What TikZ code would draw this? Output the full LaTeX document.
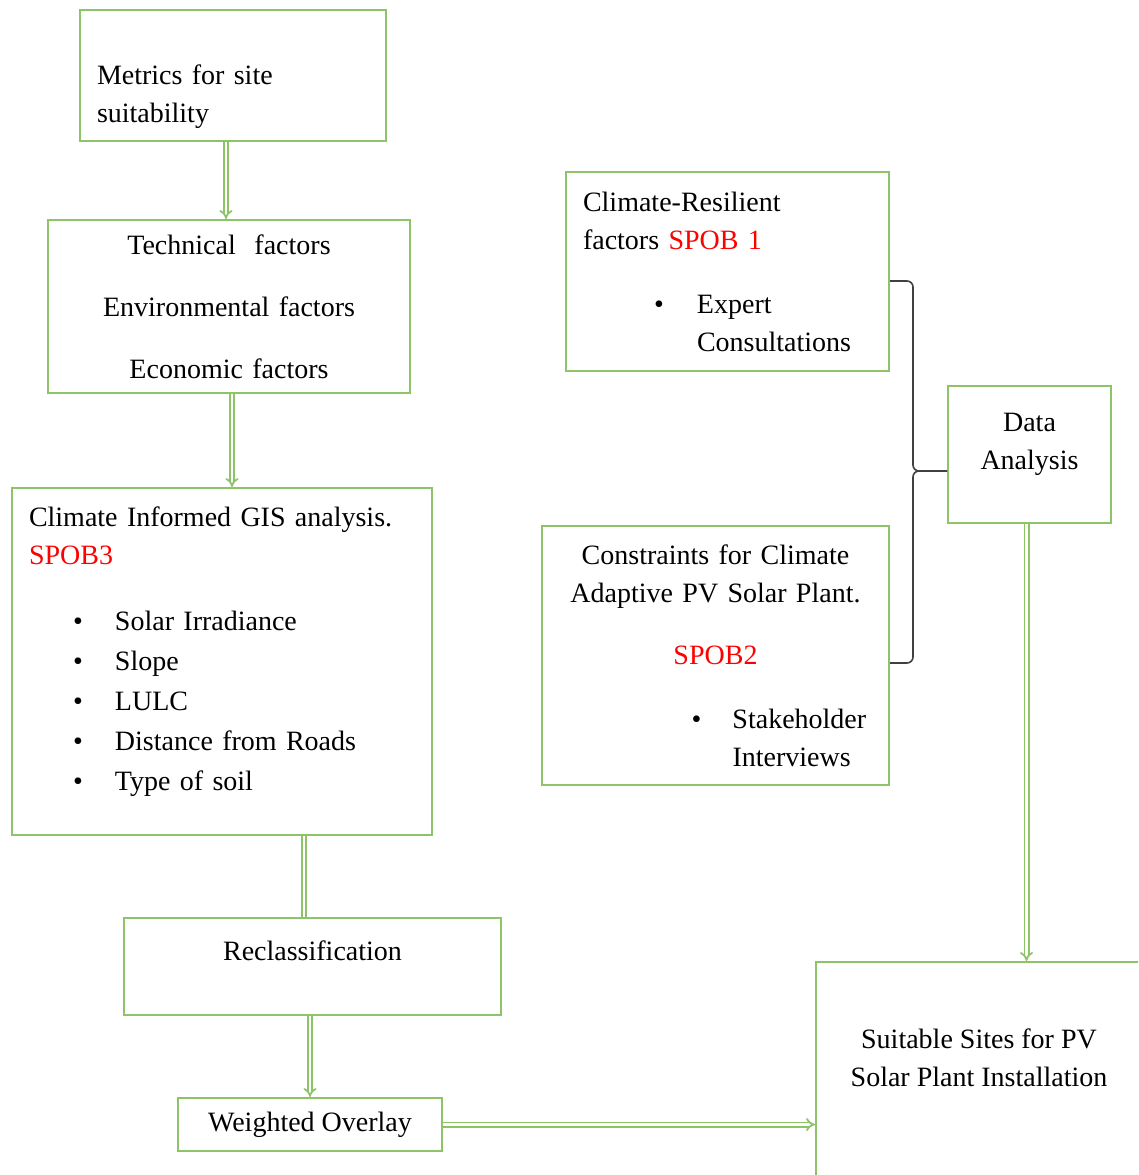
\documentclass[tikz,border=0pt]{standalone}
\usepackage{fontspec}
\setmainfont{Liberation Serif}
\usepackage{xcolor}
\usetikzlibrary{arrows.meta, calc}
\definecolor{boxgreen}{RGB}{141,196,104}
\definecolor{spobred}{RGB}{255,0,0}
\newcommand{\bulline}[3]{\hspace*{#1}\makebox[#2][l]{\textbullet}#3}

\begin{document}
\begin{tikzpicture}[x=1pt, y=-1pt, >={Implies},
    every node/.style={font=\fontsize{28}{38}\selectfont},
    box/.style={rectangle, draw=boxgreen, line width=2pt, anchor=north west, inner xsep=17pt},
    flow/.style={draw=boxgreen, line width=1.8pt, double=white, double distance=2.4pt},
    brace/.style={draw=black!75, line width=1.6pt, rounded corners=6pt}]
    \useasboundingbox (0,0) rectangle (1138,1175);
    \clip (0,0) rectangle (1138,1175);

    % Left column
    \node (metrics) [box, minimum width=306pt, minimum height=131pt, text width=272pt, align=left] at (79,9)
        {\mbox{}\\[24pt]Metrics for site\\suitability};
    \node (factors) [box, minimum width=362pt, minimum height=173pt, text width=328pt, align=center] at (47,219)
        {Technical\ \ factors\\[24pt]Environmental factors\\[24pt]Economic factors};
    \node (gis) [box, minimum width=420pt, minimum height=347pt, text width=386pt, align=left] at (11,487)
        {Climate Informed GIS analysis.\\\textcolor{spobred}{SPOB3}\\[28pt]
         \bulline{44pt}{42pt}{Solar Irradiance}\\[2pt]
         \bulline{44pt}{42pt}{Slope}\\[2pt]
         \bulline{44pt}{42pt}{LULC}\\[2pt]
         \bulline{44pt}{42pt}{Distance from Roads}\\[2pt]
         \bulline{44pt}{42pt}{Type of soil}\\[-12pt]\mbox{}};
    \node (reclass) [box, minimum width=377pt, minimum height=97pt, align=center] at (123,917)
        {Reclassification\\[-6pt]\mbox{}};
    \node (weighted) [box, minimum width=264pt, minimum height=53pt, inner ysep=4pt] at (177,1097)
        {Weighted Overlay};

    % Right column
    \node (cres) [box, minimum width=323pt, minimum height=199pt, text width=289pt, align=left] at (565,171)
        {Climate-Resilient\\factors \textcolor{spobred}{SPOB 1}\\[26pt]
         \bulline{71pt}{43pt}{Expert}\\\hspace*{114pt}Consultations};
    \node (constr) [box, minimum width=347pt, minimum height=259pt, text width=313pt, align=center] at (541,525)
        {Constraints for Climate\\Adaptive PV Solar Plant.\\[24pt]\textcolor{spobred}{SPOB2}\\[26pt]
         \makebox[260pt][l]{\bulline{106pt}{41pt}{Stakeholder}}\\
         \makebox[260pt][l]{\hspace*{147pt}Interviews}};
    \node (data) [box, minimum width=163pt, minimum height=137pt, align=center] at (947,385)
        {Data\\Analysis\\[-12pt]\mbox{}};
    \node (suitable) [box, minimum width=326pt, minimum height=240pt, align=center] at (815,961)
        {Suitable Sites for PV\\Solar Plant Installation\\[10pt]\mbox{}};

    % Arrows
    \draw [flow, ->] ([xshift=-7pt]metrics.south) -- ([xshift=-7pt]metrics.south |- factors.north);
    \draw [flow, ->] ([xshift=3pt]factors.south) -- ([xshift=3pt]factors.south |- gis.north);
    \draw [flow] ([xshift=82pt]gis.south) -- ([xshift=82pt]gis.south |- reclass.north);
    \draw [flow, ->] ([xshift=-2.5pt]reclass.south) -- ([xshift=-2.5pt]reclass.south |- weighted.north);
    \draw [flow, ->] (weighted.east) -- (weighted.east -| suitable.west);
    \draw [flow, ->] ([xshift=-3pt]data.south) -- ([xshift=-3pt]data.south |- suitable.north);

    % Brace
    \coordinate (tip) at ([yshift=-16.5pt]data.west);
    \draw [brace] ([yshift=-9.5pt]cres.east) -| ([xshift=-34pt]tip) -- (tip);
    \draw [brace] ([yshift=-7.5pt]constr.east) -| ([xshift=-34pt]tip) -- (tip);
\end{tikzpicture}
\end{document}
